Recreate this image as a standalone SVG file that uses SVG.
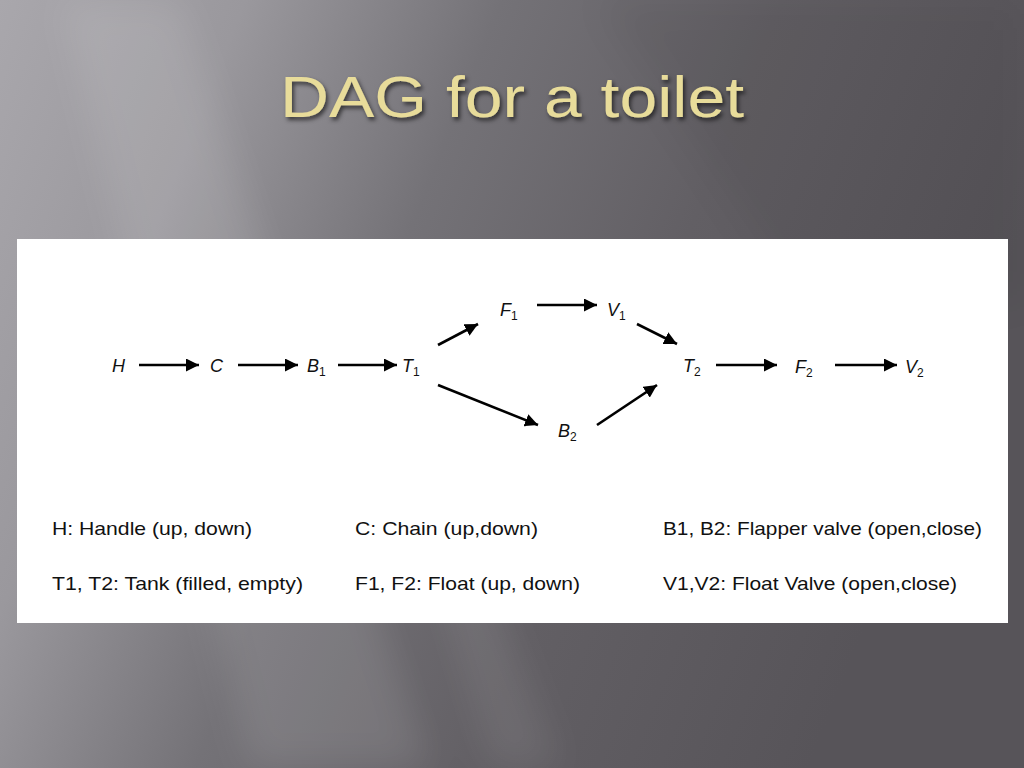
<svg xmlns="http://www.w3.org/2000/svg" width="1024" height="768" viewBox="0 0 1024 768">
<defs>
<linearGradient id="bg" x1="0" y1="0" x2="1" y2="0.3">
<stop offset="0" stop-color="#a9a7ac"/>
<stop offset="0.22" stop-color="#9a989d"/>
<stop offset="0.45" stop-color="#747277"/>
<stop offset="0.7" stop-color="#625f64"/>
<stop offset="1" stop-color="#575459"/>
</linearGradient>
<filter id="blur" x="-20%" y="-20%" width="140%" height="140%">
<feGaussianBlur stdDeviation="18"/>
</filter>
<filter id="sh" x="-10%" y="-20%" width="130%" height="160%">
<feDropShadow dx="2" dy="3" stdDeviation="2" flood-color="#000" flood-opacity="0.6"/>
</filter>
<marker id="ah" viewBox="0 0 10 10" refX="10" refY="5" markerWidth="5" markerHeight="5" markerUnits="strokeWidth" orient="auto">
<path d="M0,0 L10,5 L0,10 z" fill="#000"/>
</marker>
<style>
.n{font-family:"Liberation Sans","DejaVu Sans",sans-serif;font-style:italic;font-size:18px;fill:#111}
.s{font-size:12px;font-style:normal}
.lg{font-family:"Liberation Sans","DejaVu Sans",sans-serif;font-size:19px;fill:#111}
.e{stroke:#000;stroke-width:2.6;fill:none;marker-end:url(#ah)}
</style>
</defs>
<rect x="0" y="0" width="1024" height="768" fill="url(#bg)"/>
<g filter="url(#blur)">
<polygon points="60,0 180,0 430,768 250,768" fill="#ffffff" opacity="0.10"/>
<polygon points="380,400 420,400 560,768 490,768" fill="#ffffff" opacity="0.08"/>
<polygon points="600,0 1024,0 1024,300 800,300" fill="#000000" opacity="0.05"/>
</g>
<text x="512" y="117" text-anchor="middle" font-family="Liberation Sans,sans-serif" font-size="58" fill="#e8dc9a" textLength="464" lengthAdjust="spacingAndGlyphs" filter="url(#sh)">DAG for a toilet</text>
<rect x="17" y="239" width="991" height="384" fill="#ffffff"/>
<g id="edges">
<line class="e" x1="139" y1="365" x2="199" y2="365"/>
<line class="e" x1="238" y1="365" x2="298" y2="365"/>
<line class="e" x1="338" y1="365" x2="397" y2="365"/>
<line class="e" x1="438" y1="345" x2="478" y2="324"/>
<line class="e" x1="438" y1="385" x2="538" y2="425"/>
<line class="e" x1="537" y1="305" x2="597" y2="305"/>
<line class="e" x1="637" y1="324" x2="677" y2="344"/>
<line class="e" x1="597" y1="425" x2="657" y2="385"/>
<line class="e" x1="716" y1="365" x2="777" y2="365"/>
<line class="e" x1="835" y1="365" x2="897" y2="365"/>
</g>
<g id="H"><text class="n" x="112" y="372">H</text></g>
<g id="C"><text class="n" x="210" y="372">C</text></g>
<g id="B1"><text class="n" x="307" y="372">B<tspan class="s" dy="4">1</tspan></text></g>
<g id="T1"><text class="n" x="402" y="372">T<tspan class="s" dy="4">1</tspan></text></g>
<g id="F1"><text class="n" x="500" y="316">F<tspan class="s" dy="4">1</tspan></text></g>
<g id="V1"><text class="n" x="607" y="316">V<tspan class="s" dy="4">1</tspan></text></g>
<g id="B2"><text class="n" x="558" y="437">B<tspan class="s" dy="4">2</tspan></text></g>
<g id="T2"><text class="n" x="683" y="372">T<tspan class="s" dy="4">2</tspan></text></g>
<g id="F2"><text class="n" x="795" y="373">F<tspan class="s" dy="4">2</tspan></text></g>
<g id="V2"><text class="n" x="905" y="373">V<tspan class="s" dy="4">2</tspan></text></g>
<g id="legend">
<text class="lg" x="52" y="535" textLength="200" lengthAdjust="spacingAndGlyphs">H: Handle (up, down)</text>
<text class="lg" x="355" y="535" textLength="183" lengthAdjust="spacingAndGlyphs">C: Chain (up,down)</text>
<text class="lg" x="663" y="535" textLength="319" lengthAdjust="spacingAndGlyphs">B1, B2: Flapper valve (open,close)</text>
<text class="lg" x="52" y="590" textLength="251" lengthAdjust="spacingAndGlyphs">T1, T2: Tank (filled, empty)</text>
<text class="lg" x="355" y="590" textLength="225" lengthAdjust="spacingAndGlyphs">F1, F2: Float (up, down)</text>
<text class="lg" x="663" y="590" textLength="294" lengthAdjust="spacingAndGlyphs">V1,V2: Float Valve (open,close)</text>
</g>
</svg>
